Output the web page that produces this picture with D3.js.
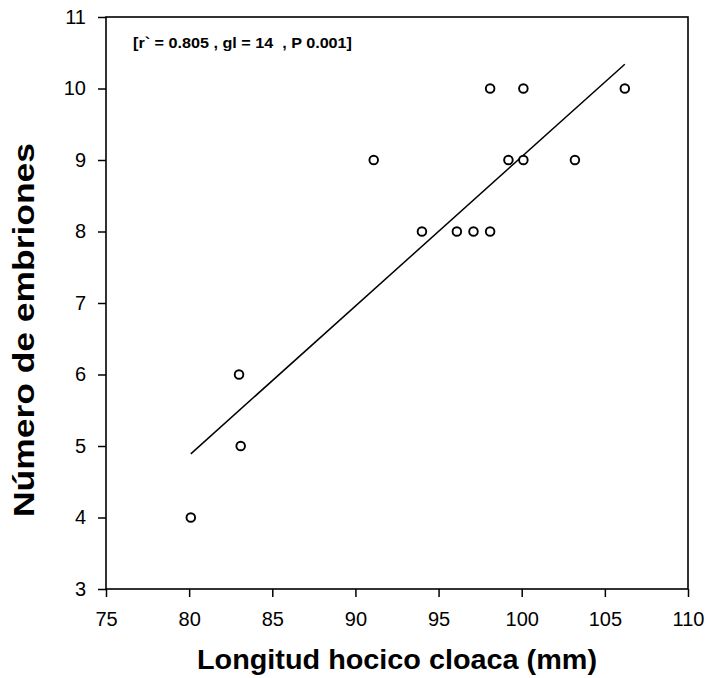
<!DOCTYPE html>
<html>
<head>
<meta charset="utf-8">
<script src="https://cdn.jsdelivr.net/npm/d3@7/dist/d3.min.js"></script>
<style>
  html, body { margin: 0; padding: 0; background: #fff; }
  svg { display: block; }
  text { font-family: "Liberation Sans", Arial, Helvetica, sans-serif; fill: #000; }
</style>
</head>
<body>
<svg id="chart" width="707" height="678"></svg>
<script>
// Data
const longitud = [80.1, 83.1, 83.0, 91.1, 94.0, 96.1, 97.1, 98.1, 98.1, 99.2, 100.1, 100.1, 103.2, 106.2];
const embriones = [4, 5, 6, 9, 8, 8, 8, 8, 10, 9, 9, 10, 9, 10];
const fitX = [80.1, 106.2];
const fitY = [4.89, 10.34];
const xTicks = [75, 80, 85, 90, 95, 100, 105, 110];
const yTicks = [3, 4, 5, 6, 7, 8, 9, 10, 11];
const xTitle = "Longitud hocico cloaca (mm)";
const yTitle = "Número de embriones";
const annotation = "[r` = 0.805 , gl = 14  , P 0.001]";

(function () {
const svg = d3.select("#chart");
const mL = 106, mR = 688, mT = 17, mB = 589;

const x = d3.scaleLinear().domain([75, 110]).range([mL, mR]);
const y = d3.scaleLinear().domain([3, 11]).range([mB, mT]);

// frame
svg.append("rect")
  .attr("x", mL).attr("y", mT)
  .attr("width", mR - mL).attr("height", mB - mT)
  .attr("fill", "none").attr("stroke", "#000").attr("stroke-width", 1.6);

const xAxis = svg.append("g")
  .attr("transform", `translate(0,${mB})`)
  .call(d3.axisBottom(x).tickValues(xTicks).tickSize(8).tickPadding(15).tickFormat(d3.format("d")));
xAxis.select(".domain").remove();
xAxis.selectAll("line").attr("stroke", "#000").attr("stroke-width", 1.5);
xAxis.selectAll("text").style("font-size", "20px").attr("font-family", null);

const yAxis = svg.append("g")
  .attr("transform", `translate(${mL},0)`)
  .call(d3.axisLeft(y).tickValues(yTicks).tickSize(8).tickPadding(12).tickFormat(d3.format("d")));
yAxis.select(".domain").remove();
yAxis.selectAll("line").attr("stroke", "#000").attr("stroke-width", 1.5);
yAxis.selectAll("text").style("font-size", "20px").attr("font-family", null);

// regression line
const line = d3.line().x(d => x(d[0])).y(d => y(d[1]));
svg.append("path")
  .datum(d3.zip(fitX, fitY))
  .attr("d", line)
  .attr("fill", "none").attr("stroke", "#000").attr("stroke-width", 1.5);

// points
svg.append("g").selectAll("circle")
  .data(d3.zip(longitud, embriones))
  .join("circle")
  .attr("cx", d => x(d[0]))
  .attr("cy", d => y(d[1]))
  .attr("r", 4.3)
  .attr("fill", "#fff").attr("stroke", "#000").attr("stroke-width", 1.9);

// annotation
svg.append("text")
  .attr("x", 133).attr("y", 48)
  .attr("textLength", 219).attr("lengthAdjust", "spacingAndGlyphs")
  .style("font-size", "14px").style("font-weight", "bold")
  .style("white-space", "pre")
  .text(annotation);

// axis titles
svg.append("text")
  .attr("x", 397).attr("y", 669)
  .attr("text-anchor", "middle")
  .attr("textLength", 400).attr("lengthAdjust", "spacingAndGlyphs")
  .style("font-size", "28px").style("font-weight", "bold")
  .text(xTitle);

svg.append("text")
  .attr("transform", `translate(34,330) rotate(-90)`)
  .attr("text-anchor", "middle")
  .attr("textLength", 374).attr("lengthAdjust", "spacingAndGlyphs")
  .style("font-size", "29px").style("font-weight", "bold")
  .text(yTitle);
})();
</script>
</body>
</html>
